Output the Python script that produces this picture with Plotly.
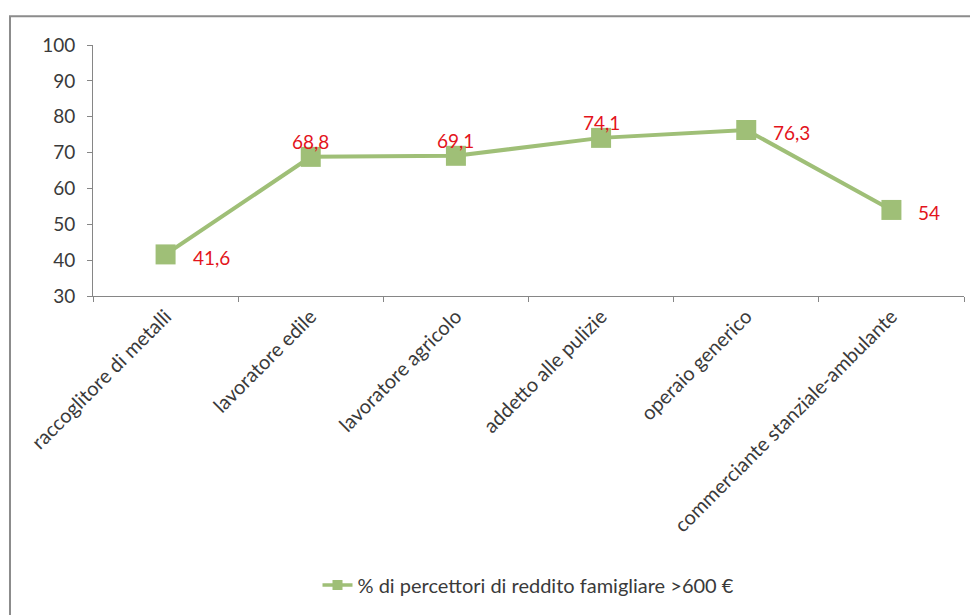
import plotly.graph_objects as go

categories = ["raccoglitore di metalli", "lavoratore edile", "lavoratore agricolo",
              "addetto alle pulizie", "operaio generico", "commerciante stanziale-ambulante"]
values = [41.6, 68.8, 69.1, 74.1, 76.3, 54]
value_labels = ["41,6", "68,8", "69,1", "74,1", "76,3", "54"]
label_side = ["right", "top", "top", "top", "right", "right"]
series_name = "% di percettori di reddito famigliare >600 €"
y_ticks = [30, 40, 50, 60, 70, 80, 90, 100]

FONT = "Lato"
GREEN = "#9fbf77"
AXIS = "#868686"
TXT = "#3a3a3a"

fig = go.Figure()
fig.add_trace(go.Scatter(
    x=categories, y=values, mode="lines+markers", name=series_name, showlegend=False,
    line=dict(color=GREEN, width=4),
    marker=dict(symbol="square", size=20, color=GREEN),
))
# legend entry (smaller marker, as in the reference legend)
fig.add_trace(go.Scatter(
    x=[None], y=[None], mode="lines+markers", name=series_name, showlegend=True,
    line=dict(color=GREEN, width=3.5),
    marker=dict(symbol="square", size=10, color=GREEN),
))

for c, v, t, s in zip(categories, values, value_labels, label_side):
    if s == "right":
        fig.add_annotation(x=c, y=v, text=t, showarrow=False, xanchor="left", yanchor="middle",
                           xshift=25, yshift=-3, font=dict(family=FONT, size=19, color="#e3141c"))
    else:
        fig.add_annotation(x=c, y=v, text=t, showarrow=False, xanchor="center", yanchor="middle",
                           xshift=0, yshift=15, font=dict(family=FONT, size=19, color="#e3141c"))

# outer chart border (left and top visible)
fig.add_shape(type="rect", xref="paper", yref="paper", x0=-0.0953, x1=1.2, y0=-2, y1=1.115,
              line=dict(color="#8c8c8c", width=2), fillcolor="rgba(0,0,0,0)", layer="below")

fig.update_layout(
    width=970, height=607,
    margin=dict(l=85, r=14, t=37, b=318),
    paper_bgcolor="white", plot_bgcolor="white",
    font=dict(family=FONT, size=19, color=TXT),
    showlegend=True,
    legend=dict(orientation="h", x=0.5, xanchor="center", y=-1.143, yanchor="middle",
                font=dict(family=FONT, size=20, color=TXT)),
    xaxis=dict(type="category", showgrid=False, showline=True, linecolor=AXIS, linewidth=1,
               ticks="outside", tickson="boundaries", ticklen=5, tickcolor=AXIS,
               tickangle=-45, tickfont=dict(family=FONT, size=20, color=TXT),
               range=[-0.5, 5.5]),
    yaxis=dict(range=[30, 100], tickvals=y_ticks, showgrid=False, showline=True,
               linecolor=AXIS, linewidth=1, ticks="outside", ticklen=5, tickcolor=AXIS,
               ticklabelstandoff=8,
               tickfont=dict(family=FONT, size=19, color=TXT), zeroline=False),
)

fig.write_html("out.html")
